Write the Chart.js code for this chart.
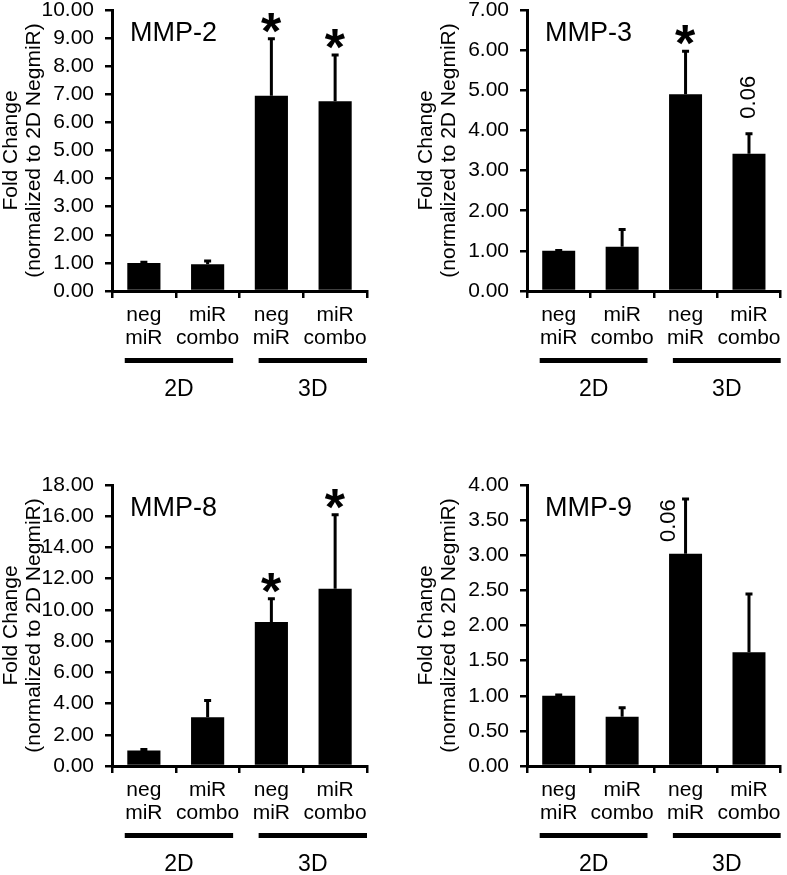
<!DOCTYPE html>
<html>
<head>
<meta charset="utf-8">
<script src="https://cdn.jsdelivr.net/npm/chart.js@4.4.1/dist/chart.umd.min.js"></script>
<style>
  body { margin: 0; background: #fff; width: 787px; height: 875px; position: relative; overflow: hidden; }
  .panel { position: absolute; }
</style>
</head>
<body>
<div class="panel" style="left:0;top:-20px"><canvas id="c0" width="400" height="440"></canvas></div>
<div class="panel" style="left:400px;top:-20px"><canvas id="c1" width="387" height="440"></canvas></div>
<div class="panel" style="left:0;top:455px"><canvas id="c2" width="400" height="440"></canvas></div>
<div class="panel" style="left:400px;top:455px"><canvas id="c3" width="387" height="440"></canvas></div>
<script>
// data
var categories = [['neg', 'miR'], ['miR', 'combo'], ['neg', 'miR'], ['miR', 'combo']];
var groupLabels = ['2D', '3D'];
var yTitle = ['Fold Change', '(normalized to 2D NegmiR)'];

var mmp2Means = [1.00, 0.95, 6.95, 6.75];
var mmp2Errors = [0.02, 0.12, 2.03, 1.65];
var mmp2Marks = ['', '', '*', '*'];

var mmp3Means = [1.00, 1.10, 4.90, 3.42];
var mmp3Errors = [0.01, 0.43, 1.07, 0.50];
var mmp3Marks = ['', '', '*', '0.06'];

var mmp8Means = [1.00, 3.12, 9.22, 11.35];
var mmp8Errors = [0.05, 1.07, 1.50, 4.75];
var mmp8Marks = ['', '', '*', '*'];

var mmp9Means = [1.00, 0.70, 3.02, 1.62];
var mmp9Errors = [0.01, 0.13, 0.78, 0.83];
var mmp9Marks = ['', '', '0.06', ''];

var yMaxes = [10, 7, 18, 4];
var ySteps = [1, 1, 2, 0.5];

var FONT = '"Liberation Sans", Arial, sans-serif';
// group underline spans, in category units
var groupSpans = [[-0.3, 1.4], [1.8, 3.5]];

function decor(name, means, errors, marks, note) {
    return {
        id: 'decor',
        afterDatasetsDraw: function (chart) {
            var ctx = chart.ctx;
            var area = chart.chartArea;
            var y = chart.scales.y;
            var bars = chart.getDatasetMeta(0).data;
            var catW = (area.right - area.left) / categories.length;
            ctx.save();
            ctx.fillStyle = '#000';
            ctx.strokeStyle = '#000';

            for (var i = 0; i < means.length; i++) {
                var cx = bars[i].x;
                var yBase = y.getPixelForValue(means[i]);
                var yTop = y.getPixelForValue(means[i] + errors[i]);
                // upper error bar only
                ctx.lineWidth = 3;
                ctx.beginPath();
                ctx.moveTo(cx, yBase);
                ctx.lineTo(cx, yTop);
                ctx.moveTo(cx - 3.5, yTop);
                ctx.lineTo(cx + 3.5, yTop);
                ctx.stroke();

                if (marks[i] === '*') {
                    ctx.font = 'bold 52px ' + FONT;
                    ctx.textAlign = 'left';
                    ctx.textBaseline = 'alphabetic';
                    var m = ctx.measureText('*');
                    ctx.fillText('*', cx - (m.actualBoundingBoxRight - m.actualBoundingBoxLeft) / 2,
                        yTop - 6 - m.actualBoundingBoxDescent);
                } else if (marks[i] !== '') {
                    ctx.save();
                    ctx.font = '22px ' + FONT;
                    ctx.translate(cx + note.dx, yTop + note.dy);
                    ctx.rotate(-Math.PI / 2);
                    ctx.textAlign = 'left';
                    ctx.textBaseline = 'middle';
                    ctx.fillText(marks[i], 0, 0);
                    ctx.restore();
                }
            }

            // panel name
            ctx.font = '27px ' + FONT;
            ctx.textAlign = 'left';
            ctx.textBaseline = 'alphabetic';
            ctx.fillText(name, area.left + 18, area.top + 31);

            // 2D / 3D brackets
            ctx.font = '23px ' + FONT;
            ctx.textAlign = 'center';
            ctx.textBaseline = 'middle';
            for (var g = 0; g < groupSpans.length; g++) {
                var x0 = area.left + (groupSpans[g][0] + 0.5) * catW;
                var x1 = area.left + (groupSpans[g][1] + 0.5) * catW;
                ctx.fillRect(x0, area.bottom + 67, x1 - x0, 5);
                ctx.fillText(groupLabels[g], (x0 + x1) / 2, area.bottom + 99);
            }
            ctx.restore();
        }
    };
}

function newBarChart(id, name, means, errors, marks, yMax, yStep, box, note) {
    var ctx = document.getElementById(id);
    return new Chart(ctx, {
        type: 'bar',
        data: {
            labels: categories,
            datasets: [{
                data: means,
                backgroundColor: '#000',
                borderWidth: 0,
                barPercentage: 0.52,
                categoryPercentage: 1
            }]
        },
        options: {
            responsive: false,
            animation: false,
            layout: { padding: { top: 30, right: box.padRight, bottom: 0, left: 0 } },
            plugins: { legend: { display: false }, tooltip: { enabled: false } },
            scales: {
                x: {
                    grid: { drawOnChartArea: false, offset: true, tickLength: 7, color: '#000', lineWidth: 2.5 },
                    border: { color: '#000', width: 3 },
                    ticks: {
                        color: '#000', padding: 6, maxRotation: 0, autoSkip: false,
                        font: { family: FONT, size: 21, lineHeight: 1.1 }
                    },
                    afterFit: function (scale) { scale.height = 129; }
                },
                y: {
                    min: 0,
                    max: yMax,
                    grid: { drawOnChartArea: false, tickLength: 7, color: '#000', lineWidth: 2.5 },
                    border: { color: '#000', width: 3 },
                    ticks: {
                        stepSize: yStep, color: '#000', padding: 11, autoSkip: false,
                        font: { family: FONT, size: 21 },
                        callback: function (v) { return v.toFixed(2); }
                    },
                    title: {
                        display: true, text: yTitle, color: '#000',
                        font: { family: FONT, size: 21, lineHeight: 1.1 },
                        padding: { top: box.titlePad, bottom: 0 }
                    },
                    afterFit: function (scale) { scale.width = box.axisLeft; }
                }
            }
        },
        plugins: [decor(name, means, errors, marks, note)]
    });
}

newBarChart('c0', 'MMP-2', mmp2Means, mmp2Errors, mmp2Marks, yMaxes[0], ySteps[0],
    { axisLeft: 112, padRight: 33, titlePad: 0 }, { dx: 0, dy: 0 });
newBarChart('c1', 'MMP-3', mmp3Means, mmp3Errors, mmp3Marks, yMaxes[1], ySteps[1],
    { axisLeft: 127, padRight: 4, titlePad: 15 }, { dx: 0, dy: -15 });
newBarChart('c2', 'MMP-8', mmp8Means, mmp8Errors, mmp8Marks, yMaxes[2], ySteps[2],
    { axisLeft: 112, padRight: 33, titlePad: 0 }, { dx: 0, dy: 0 });
newBarChart('c3', 'MMP-9', mmp9Means, mmp9Errors, mmp9Marks, yMaxes[3], ySteps[3],
    { axisLeft: 127, padRight: 4, titlePad: 15 }, { dx: -17, dy: 43 });
</script>
</body>
</html>
